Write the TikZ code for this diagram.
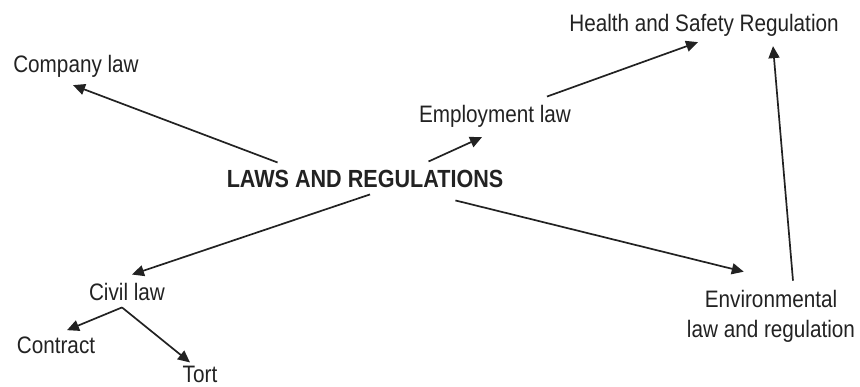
\documentclass[tikz,border=0pt]{standalone}
\usepackage{fontspec}
\setmainfont{Liberation Sans}[FakeStretch=0.87]
\usetikzlibrary{arrows.meta}
\definecolor{ink}{HTML}{222222}
\begin{document}
\begin{tikzpicture}[x=1pt,y=-1pt,
  lbl/.style={inner sep=0pt, text=ink, font=\fontsize{23.8}{30}\selectfont, anchor=base},
  ttl/.style={inner sep=0pt, text=ink, font=\fontsize{24.8}{29}\selectfont\bfseries, anchor=base},
  arr/.style={draw=ink, line width=1.7pt, -{Triangle[length=12pt,width=11pt]}}]
\useasboundingbox (0,0) rectangle (860,387);
\node[ttl] (main) at (365,188) {LAWS AND REGULATIONS};
\node[lbl] (company) at (76,73) {Company law};
\node[lbl] (employ) at (495,123) {Employment law};
\node[lbl] (health) at (704,32) {Health and Safety Regulation};
\node[lbl] (civil) at (127,301) {Civil law};
\node[lbl] (contract) at (56,354) {Contract};
\node[lbl] (tort) at (200,383) {Tort};
\node[lbl, align=center, anchor=center] (env) at (771,316) {Environmental\\law and regulation};
\coordinate (split) at ([xshift=-5pt,yshift=-6pt]civil.south);

\draw[arr] ([xshift=51pt,yshift=8pt]main.north west) -- ([xshift=-3pt,yshift=-7pt]company.south);
\draw[arr] ([xshift=202pt,yshift=9pt]main.north west) -- ([xshift=-13pt,yshift=-9pt]employ.south);
\draw[arr] ([xshift=52pt,yshift=9pt]employ.north) -- ([xshift=-6pt,yshift=-5pt]health.south);
\draw[arr] ([xshift=22pt,yshift=9pt]env.north) -- ([xshift=69pt,yshift=-9pt]health.south);
\draw[arr] ([xshift=-48pt,yshift=-12pt]main.south east) -- ([xshift=57pt,yshift=18pt]env.north west);
\draw[arr] ([xshift=5pt,yshift=-6pt]main.south) -- ([xshift=5pt,yshift=9pt]civil.north);
\draw[arr] (split) -- ([xshift=11pt,yshift=7pt]contract.north);
\draw[arr] (split) -- ([xshift=-10pt,yshift=4pt]tort.north);
\end{tikzpicture}
\end{document}
